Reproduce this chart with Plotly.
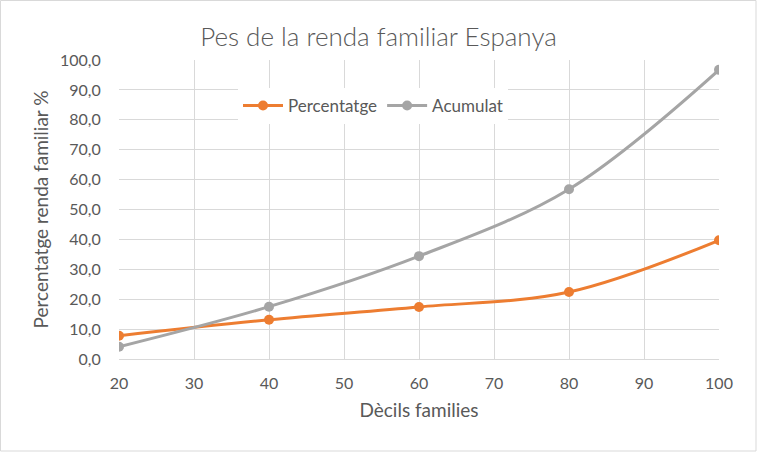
import plotly.graph_objects as go

# deciles and series
decils = [20, 40, 60, 80, 100]
percentatge = [7.8, 13.1, 17.4, 22.4, 39.7]
acumulat = [4.1, 17.5, 34.4, 56.8, 96.7]

x_ticks = [20, 30, 40, 50, 60, 70, 80, 90, 100]
y_ticks = [0, 10, 20, 30, 40, 50, 60, 70, 80, 90, 100]

fnt = "Lato, Calibri, sans-serif"
grid = "#D9D9D9"
txt = "#595959"

fig = go.Figure()
fig.add_trace(go.Scatter(x=decils, y=percentatge, name="Percentatge", mode="lines+markers",
                         line=dict(color="#ED7D31", width=3, shape="spline", smoothing=1.0),
                         marker=dict(size=10, color="#ED7D31")))
fig.add_trace(go.Scatter(x=decils, y=acumulat, name="Acumulat", mode="lines+markers",
                         line=dict(color="#A5A5A5", width=3, shape="spline", smoothing=1.0),
                         marker=dict(size=10, color="#A5A5A5")))

fig.update_layout(
    width=757, height=452,
    margin=dict(l=119, r=38, t=60, b=93),
    paper_bgcolor="white", plot_bgcolor="white",
    separators=", ",
    font=dict(family=fnt, size=13, color=txt),
    title=dict(text="Pes de la renda familiar Espanya", x=0.5, xanchor="center",
               y=1 - 37 / 452, yanchor="middle",
               font=dict(size=26, color=txt, family=fnt, weight=300)),
    xaxis=dict(range=[20, 100], tickvals=x_ticks, showgrid=True, gridcolor=grid, gridwidth=1,
               showline=True, linecolor=grid, zeroline=False,
               ticks="outside", ticklen=10, tickcolor="rgba(0,0,0,0)",
               title=dict(text="Dècils families", font=dict(size=19, color=txt), standoff=12),
               tickfont=dict(size=16, color=txt)),
    yaxis=dict(range=[0, 100], tickvals=y_ticks, tickformat=".1f", showgrid=True, gridcolor=grid,
               gridwidth=1, zeroline=False, showline=False,
               ticks="outside", ticklen=14, tickcolor="rgba(0,0,0,0)",
               title=dict(text="Percentatge renda familiar %", font=dict(size=19, color=txt), standoff=6),
               tickfont=dict(size=16, color=txt)),
    legend=dict(orientation="h", x=(238 - 119) / 600, xanchor="left", y=(359 - 106) / 299,
                yanchor="middle", bgcolor="white", font=dict(size=17, color=txt), itemwidth=40),
    showlegend=True,
)

# chart border
fig.add_shape(type="rect", xref="paper", yref="paper", x0=-118.5 / 600, x1=1 + 37 / 600,
              y0=-92 / 299, y1=1 + 59.5 / 299, line=dict(color=grid, width=1), fillcolor="rgba(0,0,0,0)")

fig.write_html("out.html", config={"displayModeBar": False},
               post_script="document.body.style.margin='0';")
